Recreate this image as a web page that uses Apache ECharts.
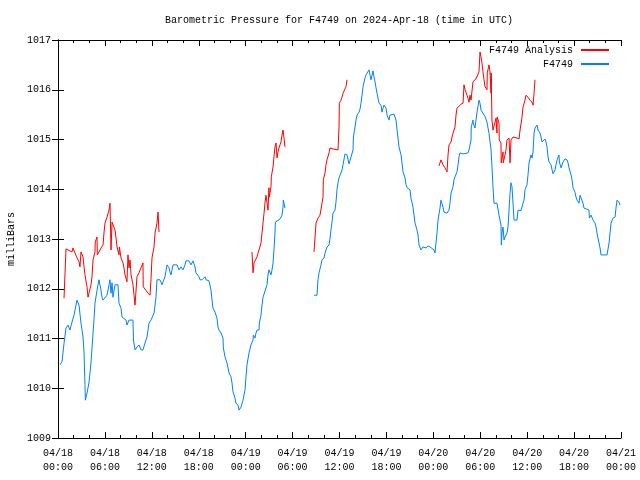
<!DOCTYPE html>
<html>
<head>
<meta charset="utf-8">
<script src="https://cdn.jsdelivr.net/npm/echarts@6/dist/echarts.min.js"></script>
<style>html,body{margin:0;padding:0;background:#fff}#c{width:640px;height:480px}</style>
</head>
<body>
<div id="c"></div>
<script>
// hours since 2024-04-18 00:00 UTC, pressure in milliBars; '-' marks a gap
const analysisData = [
[0.77,1011.81],[0.90,1012.32],[1.02,1012.80],[1.28,1012.78],[1.79,1012.74],[1.92,1012.82],[2.17,1012.72],[2.43,1012.62],[2.69,1012.54],[2.81,1012.44],[2.94,1012.74],[3.20,1012.64],[3.33,1012.44],[3.45,1012.28],[3.71,1012.04],[3.84,1011.83],[3.96,1011.91],[4.22,1012.08],[4.35,1012.24],[4.48,1012.58],[4.73,1012.74],[4.76,1012.94],[4.99,1013.04],[5.02,1012.68],[5.24,1012.74],[5.50,1012.82],[5.76,1012.88],[5.88,1013.12],[6.01,1013.32],[6.27,1013.44],[6.52,1013.58],[6.65,1013.72],[6.78,1012.78],[6.91,1013.34],[7.03,1013.32],[7.29,1013.18],[7.42,1013.02],[7.55,1012.84],[7.80,1012.68],[7.85,1012.84],[8.06,1012.62],[8.31,1012.52],[8.44,1012.42],[8.57,1012.28],[8.82,1012.14],[8.95,1012.68],[9.08,1012.42],[9.21,1012.58],[9.34,1012.28],[9.59,1012.08],[9.72,1011.87],[9.85,1011.67],[10.10,1012.24],[10.36,1012.32],[10.61,1012.42],[10.87,1012.52],[10.90,1012.04],[11.25,1011.97],[11.51,1011.91],[11.77,1011.87],[11.89,1012.18],[12.02,1012.62],[12.28,1012.84],[12.41,1013.12],[12.66,1013.32],[12.79,1013.54],[12.92,1013.14],
[13.5,'-'],
[24.81,1012.74],[24.94,1012.32],[25.07,1012.52],[25.19,1012.54],[25.45,1012.64],[25.58,1012.72],[25.71,1012.78],[25.96,1012.92],[26.09,1013.12],[26.22,1013.32],[26.35,1013.52],[26.47,1013.72],[26.60,1013.88],[26.73,1013.92],[26.86,1013.58],[26.98,1014.03],[27.02,1013.84],[27.24,1014.05],[27.28,1014.25],[27.50,1014.45],[27.62,1014.65],[27.75,1014.85],[27.88,1014.93],[28.01,1014.63],[28.14,1014.75],[28.26,1014.83],[28.52,1014.95],[28.65,1015.09],[28.78,1015.19],[28.90,1015.03],[29.03,1014.85],
[31,'-'],
[32.74,1012.74],[32.87,1013.04],[33.00,1013.32],[33.25,1013.42],[33.51,1013.48],[33.64,1013.52],[33.89,1013.84],[33.93,1014.19],[34.15,1014.33],[34.27,1014.49],[34.40,1014.59],[34.66,1014.73],[34.79,1014.83],[35.17,1014.81],[35.42,1014.79],[35.81,1014.79],[35.94,1015.25],[35.98,1015.73],[36.19,1015.79],[36.32,1015.85],[36.45,1015.93],[36.70,1015.95],[36.83,1016.06],[36.96,1016.20],
[40,'-'],
[48.72,1014.47],[48.98,1014.59],[49.11,1014.55],[49.24,1014.49],[49.49,1014.43],[49.75,1014.35],[49.88,1014.69],[50.00,1014.89],[50.26,1014.95],[50.39,1015.05],[50.52,1015.13],[50.77,1015.25],[50.90,1015.49],[51.03,1015.63],[51.28,1015.67],[51.54,1015.71],[51.80,1015.73],[51.92,1016.10],[52.05,1016.00],[52.31,1015.89],[52.43,1015.83],[52.56,1015.75],[52.69,1015.89],[52.82,1015.79],[53.07,1016.16],[53.20,1016.20],[53.46,1016.22],[53.59,1016.24],[53.84,1016.36],[53.97,1016.76],[54.10,1016.66],[54.22,1016.54],[54.35,1016.36],[54.48,1016.20],[54.61,1016.06],[54.86,1016.00],[54.90,1016.34],[55.12,1016.50],[55.25,1016.36],[55.38,1015.93],[55.40,1016.34],[55.50,1015.39],[55.63,1015.19],[55.89,1015.35],[56.02,1015.43],[56.14,1015.13],[56.17,1015.45],[56.40,1015.33],[56.43,1014.99],[56.65,1014.93],[56.68,1014.53],[56.91,1014.75],[56.94,1014.53],[57.17,1014.69],[57.29,1014.79],[57.42,1014.99],[57.68,1015.03],[57.81,1014.53],[57.93,1014.99],[58.19,1015.05],[58.70,1015.03],[58.96,1015.01],[59.09,1015.19],[59.34,1015.45],[59.47,1015.65],[59.72,1015.79],[59.85,1015.89],[60.11,1015.85],[60.36,1015.79],[60.62,1015.75],[60.75,1015.69],[60.88,1015.93],[61.00,1016.20]
];
const stationData = [
[0.26,1010.47],[0.51,1010.53],[0.77,1010.90],[1.02,1011.21],[1.28,1011.27],[1.53,1011.17],[1.79,1011.33],[2.05,1011.47],[2.30,1011.67],[2.43,1011.77],[2.69,1011.67],[2.94,1011.31],[3.20,1011.03],[3.33,1010.71],[3.45,1010.07],[3.50,1009.76],[3.71,1009.90],[3.96,1010.11],[4.09,1010.31],[4.22,1010.51],[4.48,1011.11],[4.60,1011.37],[4.73,1011.71],[4.99,1011.97],[5.24,1012.18],[5.50,1011.97],[5.63,1011.83],[5.76,1011.77],[6.01,1011.81],[6.27,1011.87],[6.52,1012.08],[6.65,1012.18],[6.78,1011.91],[6.91,1012.12],[7.03,1011.83],[7.29,1012.08],[7.67,1012.08],[7.80,1011.71],[8.06,1011.61],[8.19,1011.43],[8.44,1011.47],[8.70,1011.37],[8.82,1011.27],[9.08,1011.37],[9.59,1011.37],[9.65,1010.97],[9.85,1010.77],[10.10,1010.83],[10.36,1010.87],[10.61,1010.77],[10.87,1010.77],[11.13,1010.91],[11.38,1011.03],[11.64,1011.31],[11.89,1011.37],[12.28,1011.51],[12.53,1011.83],[12.66,1012.18],[13.04,1012.18],[13.30,1012.08],[13.43,1012.14],[13.68,1012.24],[13.94,1012.48],[14.20,1012.42],[14.32,1012.34],[14.45,1012.28],[14.71,1012.48],[15.22,1012.48],[15.35,1012.44],[15.48,1012.38],[15.73,1012.44],[15.86,1012.48],[15.99,1012.38],[16.24,1012.48],[16.37,1012.56],[16.75,1012.56],[17.01,1012.48],[17.14,1012.52],[17.27,1012.56],[17.52,1012.44],[17.65,1012.32],[17.78,1012.28],[18.03,1012.24],[18.16,1012.18],[18.42,1012.18],[18.54,1012.22],[18.80,1012.24],[18.93,1012.18],[19.31,1012.16],[19.44,1012.12],[19.57,1011.97],[19.70,1011.77],[19.82,1011.61],[20.08,1011.53],[20.33,1011.41],[20.46,1011.23],[20.59,1011.17],[20.85,1011.11],[21.10,1011.01],[21.15,1010.81],[21.36,1010.63],[21.61,1010.51],[21.74,1010.41],[21.87,1010.31],[22.12,1010.23],[22.25,1010.11],[22.38,1009.93],[22.64,1009.80],[22.76,1009.70],[23.02,1009.66],[23.15,1009.56],[23.40,1009.62],[23.66,1009.76],[23.92,1009.97],[24.04,1010.23],[24.17,1010.47],[24.43,1010.71],[24.68,1010.87],[24.94,1010.97],[24.98,1011.07],[25.19,1011.01],[25.32,1011.11],[25.45,1011.17],[25.71,1011.17],[25.75,1011.31],[25.96,1011.47],[26.09,1011.67],[26.22,1011.83],[26.47,1011.87],[26.73,1012.08],[26.86,1012.28],[26.98,1012.38],[27.11,1012.34],[27.24,1012.28],[27.37,1012.38],[27.50,1012.52],[27.62,1012.78],[27.75,1013.12],[27.80,1013.34],[28.01,1013.38],[28.39,1013.40],[28.65,1013.48],[28.78,1013.64],[28.82,1013.78],[29.03,1013.62],
[30,'-'],
[32.74,1011.87],[33.12,1011.87],[33.25,1012.18],[33.38,1012.32],[33.64,1012.48],[33.76,1012.58],[34.02,1012.62],[34.15,1012.72],[34.40,1012.84],[34.66,1012.88],[34.79,1013.02],[34.91,1013.18],[35.04,1013.34],[35.17,1013.52],[35.42,1013.58],[35.55,1013.74],[35.68,1013.99],[35.81,1014.13],[35.94,1014.23],[36.19,1014.33],[36.32,1014.39],[36.45,1014.49],[36.70,1014.71],[36.96,1014.69],[37.22,1014.51],[37.47,1014.53],[37.73,1014.79],[37.78,1015.05],[37.98,1015.25],[38.11,1015.39],[38.24,1015.49],[38.50,1015.55],[38.62,1015.61],[38.75,1015.73],[38.88,1015.89],[39.01,1016.06],[39.26,1016.24],[39.39,1016.30],[39.52,1016.34],[39.78,1016.40],[39.90,1016.30],[40.03,1016.20],[40.29,1016.38],[40.41,1016.26],[40.54,1016.16],[40.67,1016.04],[40.80,1015.93],[41.05,1015.73],[41.31,1015.69],[41.44,1015.55],[41.56,1015.63],[41.69,1015.69],[41.95,1015.63],[42.08,1015.49],[42.33,1015.39],[42.46,1015.49],[42.97,1015.51],[43.23,1015.39],[43.36,1015.19],[43.48,1015.03],[43.61,1014.85],[43.87,1014.69],[43.99,1014.53],[44.12,1014.35],[44.38,1014.23],[44.51,1014.09],[44.63,1014.03],[45.02,1013.99],[45.14,1013.82],[45.40,1013.64],[45.53,1013.48],[45.66,1013.32],[45.91,1013.18],[46.04,1013.08],[46.17,1012.88],[46.30,1012.92],[46.42,1012.78],[46.55,1012.82],[46.68,1012.84],[46.81,1012.88],[47.06,1012.82],[47.32,1012.86],[47.58,1012.84],[47.83,1012.88],[48.09,1012.78],[48.21,1012.72],[48.47,1013.12],[48.60,1013.38],[48.85,1013.62],[48.98,1013.78],[49.24,1013.64],[49.37,1013.54],[49.49,1013.52],[49.75,1013.52],[50.00,1013.58],[50.13,1013.72],[50.26,1013.92],[50.52,1014.05],[50.64,1014.19],[50.77,1014.25],[51.03,1014.35],[51.16,1014.49],[51.28,1014.65],[51.41,1014.73],[51.54,1014.69],[51.80,1014.71],[52.05,1014.73],[52.43,1014.73],[52.56,1014.79],[52.82,1014.99],[52.85,1015.25],[53.07,1015.39],[53.10,1015.33],[53.33,1015.23],[53.46,1015.39],[53.59,1015.55],[53.84,1015.79],[53.97,1015.73],[54.10,1015.59],[54.35,1015.60],[54.61,1015.46],[54.86,1015.35],[55.12,1015.12],[55.38,1014.79],[55.50,1014.45],[55.63,1014.05],[55.76,1013.72],[55.89,1013.68],[56.14,1013.72],[56.40,1013.48],[56.65,1013.28],[56.70,1012.88],[56.78,1013.12],[56.91,1013.24],[57.04,1012.98],[57.17,1013.04],[57.42,1013.12],[57.55,1013.24],[57.68,1013.58],[57.81,1013.92],[57.93,1014.13],[58.06,1014.05],[58.19,1013.72],[58.32,1013.38],[58.70,1013.38],[58.83,1013.58],[58.96,1013.54],[59.21,1013.57],[59.47,1013.72],[59.60,1013.78],[59.72,1013.99],[59.98,1014.09],[60.11,1014.29],[60.24,1014.53],[60.36,1014.53],[60.49,1014.69],[60.62,1014.63],[60.75,1014.75],[60.88,1015.13],[61.00,1015.23],[61.26,1015.29],[61.39,1015.19],[61.52,1015.17],[61.64,1015.13],[61.77,1015.05],[61.90,1014.95],[62.03,1014.99],[62.28,1015.01],[62.41,1014.95],[62.54,1014.85],[62.67,1014.65],[62.79,1014.55],[63.05,1014.49],[63.18,1014.39],[63.31,1014.31],[63.56,1014.39],[63.69,1014.49],[63.82,1014.59],[64.07,1014.69],[64.12,1014.55],[64.33,1014.43],[64.46,1014.49],[64.59,1014.55],[64.84,1014.61],[65.10,1014.59],[65.23,1014.53],[65.35,1014.43],[65.61,1014.29],[65.74,1014.19],[65.86,1014.03],[66.12,1013.94],[66.25,1013.84],[66.38,1013.78],[66.63,1013.72],[66.76,1013.88],[67.01,1013.88],[67.14,1013.72],[67.27,1013.62],[67.65,1013.60],[67.91,1013.58],[67.95,1013.42],[68.17,1013.48],[68.29,1013.44],[68.42,1013.38],[68.68,1013.32],[68.81,1013.24],[68.93,1013.12],[69.19,1012.92],[69.32,1012.82],[69.45,1012.68],[70.21,1012.68],[70.47,1012.92],[70.60,1013.12],[70.72,1013.32],[70.98,1013.42],[71.24,1013.44],[71.36,1013.62],[71.49,1013.78],[71.75,1013.74],[71.88,1013.68]
];
const tickDates = ['04/18','04/18','04/18','04/18','04/19','04/19','04/19','04/19','04/20','04/20','04/20','04/20','04/21'];
const tickTimes = ['00:00','06:00','12:00','18:00','00:00','06:00','12:00','18:00','00:00','06:00','12:00','18:00','00:00'];
const seriesNames = ['F4749 Analysis','F4749'];
const seriesColors = ['#ff0000','#0080ff'];

const FONT = 'Liberation Mono';
const chart = echarts.init(document.getElementById('c'), null, {renderer:'canvas'});
const xCommon = {
  type:'value', min:0, max:72, interval:6,
  axisLine:{show:true, lineStyle:{color:'#000', width:1}},
  axisTick:{show:true, inside:true, length:6, lineStyle:{color:'#000'}},
  minorTick:{show:true, splitNumber:3, length:3, lineStyle:{color:'#000'}},
  splitLine:{show:false}
};
const yCommon = {
  type:'value', min:1009, max:1017, interval:1,
  axisLine:{show:true, lineStyle:{color:'#000', width:1}},
  axisTick:{show:true, inside:true, length:6, lineStyle:{color:'#000'}},
  splitLine:{show:false}
};
chart.setOption({
  animation:false,
  backgroundColor:'#ffffff',
  title:{text:'Barometric Pressure for F4749 on 2024-Apr-18 (time in UTC)', left:339, textAlign:'center', top:15, padding:0,
    textStyle:{fontFamily:FONT, fontSize:10, fontWeight:'normal', color:'#000'}},
  legend:{data:seriesNames, orient:'vertical', right:31, top:44, padding:0, align:'right', itemWidth:28, itemHeight:2, itemGap:2, icon:'rect',
    textStyle:{fontFamily:FONT, fontSize:10, color:'#000', lineHeight:12, padding:[0,3,0,0]}},
  grid:{left:58, right:19, top:40, bottom:42, containLabel:false, outerBoundsMode:'none'},
  xAxis:[
    Object.assign({}, xCommon, {position:'bottom',
      axisLabel:{fontFamily:FONT, fontSize:10, color:'#000', lineHeight:14, margin:8,
        formatter:(v)=>{const i=Math.round(v/6); return tickDates[i]+'\n'+tickTimes[i];}}}),
    Object.assign({}, xCommon, {position:'top', axisLabel:{show:false}})
  ],
  yAxis:[
    Object.assign({}, yCommon, {position:'left', name:'milliBars', nameLocation:'middle', nameGap:40, nameRotate:90,
      nameTextStyle:{fontFamily:FONT, fontSize:10, color:'#000'},
      axisLabel:{fontFamily:FONT, fontSize:10, color:'#000', margin:7, formatter:(v)=>String(v)}}),
    Object.assign({}, yCommon, {position:'right', axisLabel:{show:false}})
  ],
  series:[
    {name:seriesNames[0], type:'line', data:analysisData, showSymbol:false, symbol:'none', connectNulls:false,
      lineStyle:{color:seriesColors[0], width:1}, itemStyle:{color:seriesColors[0]}},
    {name:seriesNames[1], type:'line', data:stationData, showSymbol:false, symbol:'none', connectNulls:false,
      lineStyle:{color:seriesColors[1], width:1}, itemStyle:{color:seriesColors[1]}}
  ]
});
</script>
</body>
</html>
